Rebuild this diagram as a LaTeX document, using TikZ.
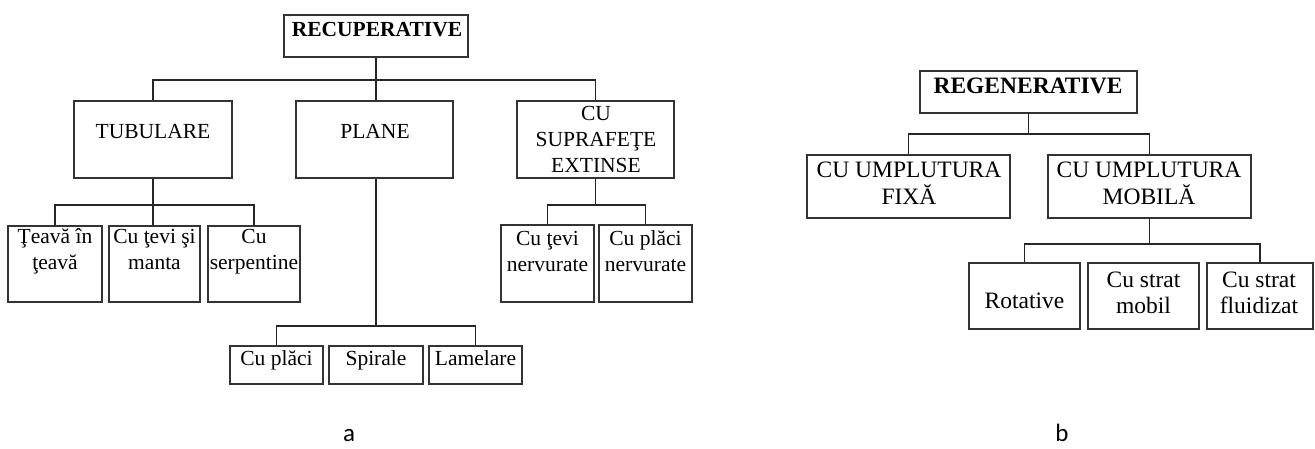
\documentclass[tikz,border=0pt]{standalone}
\usepackage{fontspec}
\setmainfont{Liberation Serif}
\newfontfamily\calib{Carlito}
\newcommand{\ml}[1]{\begin{tabular}[t]{@{}c@{}}#1\end{tabular}}
\begin{document}
\begin{tikzpicture}[x=1pt,y=-1pt,
  box/.style={draw=black!80, line width=2pt, inner sep=0pt},
  conn/.style={draw=black!85, line width=1.9pt},
  tL/.style={inner sep=0pt, anchor=base, font=\fontsize{21.5}{26}\selectfont},
  tR/.style={inner sep=0pt, anchor=base, font=\fontsize{23.5}{26.5}\selectfont},
  captxt/.style={inner sep=0pt, anchor=base, font=\calib\fontsize{25}{28}\selectfont}]
\useasboundingbox (0,0) rectangle (1315,448);

% ---------- left: RECUPERATIVE ----------
\node[box, minimum width=184pt, minimum height=42pt] (rec) at (376,36) {};
\node[box, minimum width=158pt, minimum height=77pt] (tub) at (153,139.5) {};
\node[box, minimum width=157pt, minimum height=77pt] (pla) at (374.5,139.5) {};
\node[box, minimum width=157pt, minimum height=77pt] (cus) at (595.5,139.5) {};
\node[box, minimum width=94pt, minimum height=76pt] (tea) at (55,264) {};
\node[box, minimum width=91pt, minimum height=76pt] (tev) at (154.5,264) {};
\node[box, minimum width=92pt, minimum height=76pt] (ser) at (254,264) {};
\node[box, minimum width=93pt, minimum height=38pt] (cpl) at (276.5,365) {};
\node[box, minimum width=94pt, minimum height=38pt] (spi) at (376,365) {};
\node[box, minimum width=93pt, minimum height=38pt] (lam) at (475.5,365) {};
\node[box, minimum width=93pt, minimum height=77pt] (ctn) at (547.5,263.5) {};
\node[box, minimum width=93pt, minimum height=77pt] (cpn) at (645.5,263.5) {};

\node[tL] at (377,36) {\bfseries RECUPERATIVE};
\node[tL] at (153,138) {TUBULARE};
\node[tL] at (375,138) {PLANE};
\node[tL] at (596,120) {\ml{CU\\SUPRAFEŢE\\EXTINSE}};
\node[tL] at (55,243) {\ml{Ţeavă în\\ţeavă}};
\node[tL] at (154.5,243) {\ml{Cu ţevi şi\\manta}};
\node[tL] at (254,243) {\ml{Cu\\serpentine}};
\node[tL] at (276.5,365) {Cu plăci};
\node[tL] at (376,365) {Spirale};
\node[tL] at (475.5,365) {Lamelare};
\node[tL] at (547.5,245) {\ml{Cu ţevi\\nervurate}};
\node[tL] at (645.5,245) {\ml{Cu plăci\\nervurate}};

\draw[conn] (rec.south) -- ++(0,22) coordinate (j1);
\draw[conn] (tub.north) |- (j1) -| (cus.north);
\draw[conn] (j1) -- (j1 |- pla.north);
\draw[conn] (tub.south) -- ++(0,26) coordinate (j2);
\draw[conn] (tea.north) |- (j2) -| (ser.north);
\draw[conn] (j2) -- (j2 |- tev.north);
\draw[conn] (j1 |- pla.south) -- ++(0,147) coordinate (j3);
\draw[conn] (cpl.north) |- (j3) -| (lam.north);
\draw[conn] (cus.south) -- ++(0,26) coordinate (j4);
\draw[conn] (ctn.north) |- (j4) -| (cpn.north);

% ---------- right: REGENERATIVE ----------
\node[box, minimum width=217pt, minimum height=42pt] (reg) at (1028.5,92) {};
\node[box, minimum width=203pt, minimum height=63pt] (fix) at (908.5,186.5) {};
\node[box, minimum width=203pt, minimum height=63pt] (mob) at (1149.5,186.5) {};
\node[box, minimum width=111pt, minimum height=66pt] (rot) at (1024.5,296) {};
\node[box, minimum width=111pt, minimum height=66pt] (csm) at (1143.5,296) {};
\node[box, minimum width=106pt, minimum height=66pt] (csf) at (1260,296) {};

\node[tR] at (1028,93) {\bfseries REGENERATIVE};
\node[tR] at (909,177) {\ml{CU UMPLUTURA\\FIXĂ}};
\node[tR] at (1149,177) {\ml{CU UMPLUTURA\\MOBILĂ}};
\node[tR] at (1024.5,308) {Rotative};
\node[tR] at (1143.5,287) {\ml{Cu strat\\mobil}};
\node[tR] at (1259,287) {\ml{Cu strat\\fluidizat}};

\draw[conn] (reg.south) -- ++(0,20) coordinate (k1);
\draw[conn] (fix.north) |- (k1) -| (mob.north);
\draw[conn] (mob.south) -- ++(0,25) coordinate (k2);
\draw[conn] (rot.north) |- (k2) -| (csf.north);

% ---------- captions ----------
\node[captxt] (capa) at (349,441) {a};
\node[captxt] (capb) at (1062,441) {b};
\end{tikzpicture}
\end{document}
